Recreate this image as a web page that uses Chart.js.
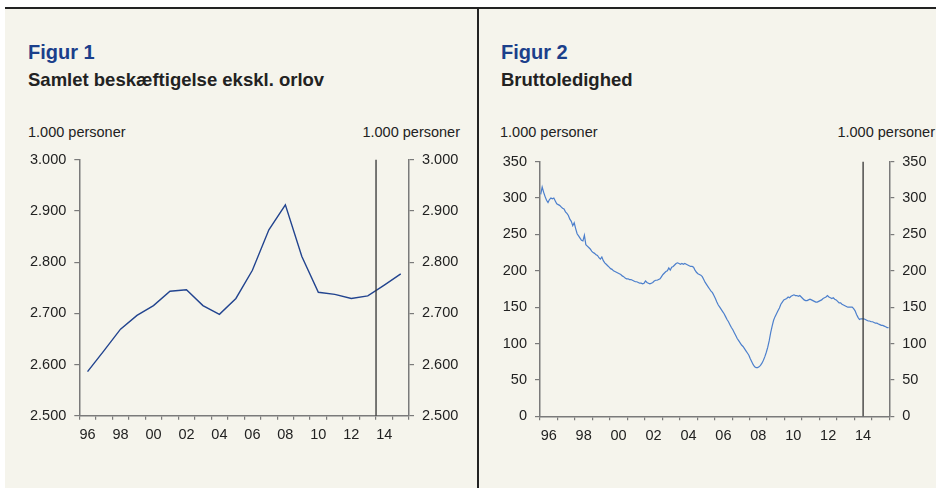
<!DOCTYPE html>
<html>
<head>
<meta charset="utf-8">
<script src="https://cdn.jsdelivr.net/npm/chart.js@4.4.1/dist/chart.umd.min.js"></script>
<style>
  body { margin: 0; background: #fff; font-family: Arial, "Liberation Sans", sans-serif; }
  #frame { position: absolute; left: 5px; top: 7px; width: 931px; height: 479px; background: #f5f4ec; border-top: 2px solid #222; }
  #divider { position: absolute; left: 477px; top: 8px; width: 1.5px; height: 480px; background: #222; }
  .txt { position: absolute; white-space: nowrap; line-height: 1; color: #222; }
  .fig { font-size: 20px; font-weight: bold; color: #1b3f8b; top: 42px; }
  .sub { font-size: 18.5px; font-weight: bold; top: 71px; }
  .unit { font-size: 14.5px; top: 125px; }
  canvas { position: absolute; }
</style>
</head>
<body>
<div id="frame"></div>
<div id="divider"></div>

<div class="txt fig" style="left:28px">Figur 1</div>
<div class="txt sub" style="left:28px">Samlet beskæftigelse ekskl. orlov</div>
<div class="txt unit" style="left:28px">1.000 personer</div>
<div class="txt unit" style="right:476px">1.000 personer</div>

<div class="txt fig" style="left:501px">Figur 2</div>
<div class="txt sub" style="left:501px">Bruttoledighed</div>
<div class="txt unit" style="left:500px">1.000 personer</div>
<div class="txt unit" style="right:1px">1.000 personer</div>

<canvas id="c1" width="478" height="307" style="left:0px; top:143px"></canvas>
<canvas id="c2" width="458" height="305" style="left:478px; top:145px"></canvas>

<script>
// Figur 1: samlet beskæftigelse, 1.000 personer (årstal)
const years1 = [1996, 1997, 1998, 1999, 2000, 2001, 2002, 2003, 2004, 2005,
                2006, 2007, 2008, 2009, 2010, 2011, 2012, 2013, 2014, 2015];
const beskaeftigelse = [2586, 2627, 2669, 2696, 2715, 2743, 2746, 2715, 2698, 2729,
                        2784, 2863, 2912, 2811, 2741, 2737, 2729, 2734, 2755, 2777];
const prognose1 = 17.5;   // mellem 2013 og 2014

// Figur 2: bruttoledighed, 1.000 personer (måned, jan-dec pr. linje)
const firstYear2 = 1996;
const ledighed = [
  305, 315, 308, 302, 297, 294, 298, 300, 299, 300, 296, 292, // 1996
  291, 290, 288, 286, 285, 281, 279, 276, 271, 268, 262, 266, // 1997
  258, 251, 248, 245, 242, 241, 249, 236, 234, 232, 230, 227, // 1998
  225, 224, 222, 221, 218, 216, 219, 214, 211, 209, 207, 205, // 1999
  203, 202, 200, 199, 198, 197, 196, 195, 193, 192, 190, 189, // 2000
  189, 188, 188, 187, 186, 185, 185, 184, 183, 183, 182, 183, // 2001
  186, 184, 183, 182, 183, 184, 186, 187, 187, 188, 189, 192, // 2002
  195, 197, 199, 200, 204, 201, 205, 206, 208, 210, 211, 210, // 2003
  209, 210, 209, 210, 209, 208, 207, 206, 206, 205, 201, 198, // 2004
  196, 195, 194, 192, 188, 184, 181, 178, 175, 172, 170, 166, // 2005
  162, 157, 153, 150, 147, 144, 141, 137, 133, 130, 126, 122, // 2006
  119, 115, 111, 107, 104, 101,  98,  96,  93,  90,  87,  84, // 2007
   79,  75,  71,  68,  67,  67,  68,  70,  73,  77,  82,  88, // 2008
   95, 104, 115, 124, 132, 137, 141, 145, 149, 154, 157, 160, // 2009
  161, 162, 164, 163, 165, 166, 167, 166, 166, 165, 166, 164, // 2010
  162, 160, 159, 159, 160, 161, 160, 159, 158, 157, 157, 158, // 2011
  159, 160, 162, 163, 164, 166, 164, 163, 162, 163, 161, 160, // 2012
  158, 156, 156, 154, 153, 152, 151, 150, 150, 150, 150, 148, // 2013
  145, 140, 136, 133, 134, 134, 134, 133, 132, 131, 131, 130, // 2014
  130, 129, 128, 128, 127, 126, 125, 125, 124, 123, 122, 122  // 2015
];
const prognose2 = 2014.5;

const axisColor = '#7a7a7a';
const textColor = '#222';

Chart.defaults.font.family = 'Arial, "Liberation Sans", sans-serif';
Chart.defaults.font.size = 14.5;
Chart.defaults.color = textColor;

function fmtThousand(v) {
  if (v >= 1000) return Math.floor(v / 1000) + '.' + String(v % 1000).padStart(3, '0');
  return String(v);
}

const forecastLine = {
  id: 'forecastLine',
  afterDatasetsDraw(chart, args, opts) {
    const x = chart.scales.x.getPixelForValue(opts.value);
    const ctx = chart.ctx;
    ctx.save();
    ctx.strokeStyle = '#333';
    ctx.lineWidth = 1.3;
    ctx.beginPath();
    ctx.moveTo(x, chart.chartArea.top);
    ctx.lineTo(x, chart.chartArea.bottom);
    ctx.stroke();
    ctx.restore();
  }
};

function yAxis(position, min, max, step, width) {
  return {
    type: 'linear',
    position: position,
    min: min,
    max: max,
    grid: { drawOnChartArea: false, color: axisColor, tickLength: 5, lineWidth: 1.2 },
    border: { color: axisColor, width: 1.5 },
    ticks: { stepSize: step, padding: 8, callback: fmtThousand },
    afterFit: function(scale) { scale.width = width; }
  };
}

// Figur 1
new Chart(document.getElementById('c1'), {
  type: 'line',
  data: {
    labels: years1,
    datasets: [{
      data: beskaeftigelse,
      borderColor: '#22448f',
      borderWidth: 1.4,
      pointRadius: 0,
      tension: 0
    }]
  },
  options: {
    responsive: false,
    animation: false,
    layout: { padding: 0 },
    plugins: { legend: { display: false }, tooltip: { enabled: false }, forecastLine: { value: prognose1 } },
    scales: {
      x: {
        type: 'category',
        offset: true,
        grid: { offset: true, drawOnChartArea: false, color: axisColor, tickLength: 4, lineWidth: 1.2 },
        border: { color: axisColor, width: 1.5 },
        ticks: {
          autoSkip: false, maxRotation: 0, padding: 7,
          callback: function(v, i) { return i % 2 === 0 ? String(years1[i]).slice(2) : ''; }
        },
        afterFit: function(scale) { scale.height = 34.3; }
      },
      y: yAxis('left', 2500, 3000, 100, 79.3),
      y2: yAxis('right', 2500, 3000, 100, 69)
    }
  },
  plugins: [forecastLine]
});

// Figur 2
const points2 = ledighed.map((v, i) => ({ x: firstYear2 + (i + 0.5) / 12, y: v }));

new Chart(document.getElementById('c2'), {
  type: 'line',
  data: {
    datasets: [{
      data: points2,
      borderColor: '#4c7fcc',
      borderWidth: 1.2,
      pointRadius: 0,
      tension: 0
    }]
  },
  options: {
    responsive: false,
    animation: false,
    layout: { padding: 0 },
    plugins: { legend: { display: false }, tooltip: { enabled: false }, forecastLine: { value: prognose2 } },
    scales: {
      x: {
        type: 'linear',
        min: 1996,
        max: 2016,
        grid: {
          drawOnChartArea: false, tickLength: 4, lineWidth: 1.2,
          color: (ctx) => (ctx.tick && ctx.tick.value % 1 === 0) ? axisColor : 'rgba(0,0,0,0)'
        },
        border: { color: axisColor, width: 1.5 },
        ticks: {
          stepSize: 0.5, autoSkip: false, maxRotation: 0, padding: 7,
          callback: function(v) {
            const y = Math.floor(v);
            return (v - y === 0.5 && y % 2 === 0) ? String(y).slice(2) : '';
          }
        },
        afterFit: function(scale) { scale.height = 33.7; }
      },
      y: yAxis('left', 0, 350, 50, 62),
      y2: yAxis('right', 0, 350, 50, 46.7)
    }
  },
  plugins: [forecastLine]
});
</script>
</body>
</html>
